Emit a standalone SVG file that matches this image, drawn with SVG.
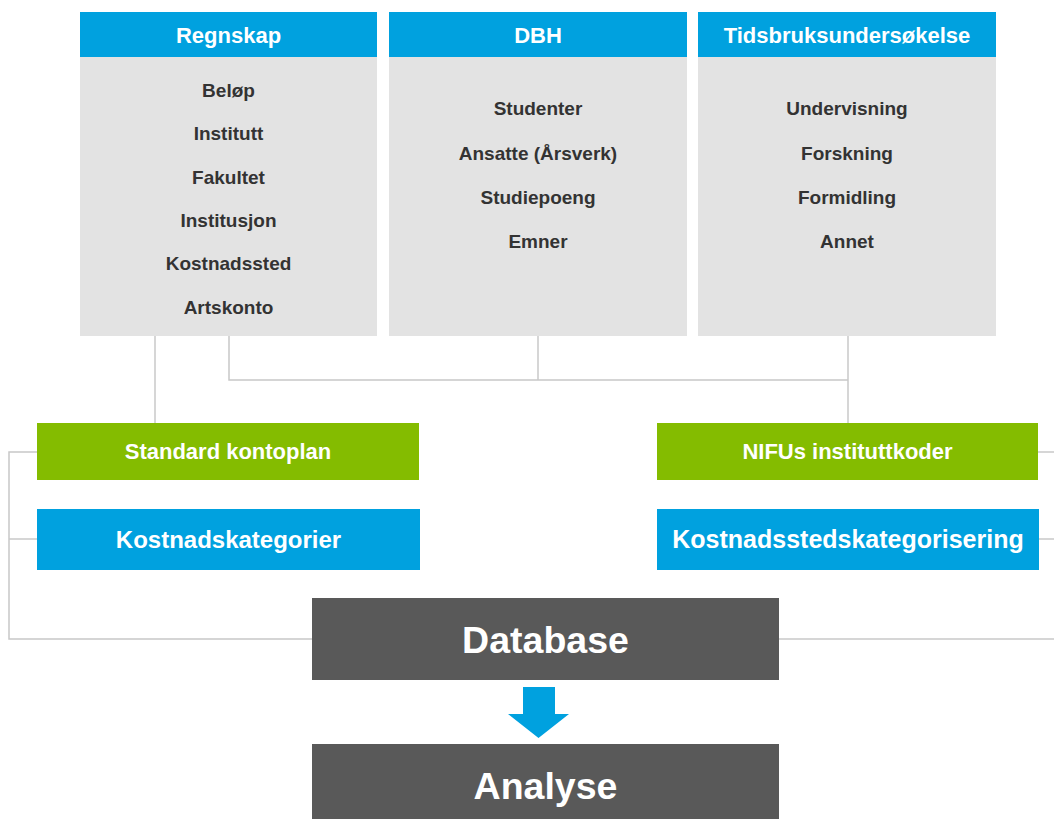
<svg xmlns="http://www.w3.org/2000/svg" width="1054" height="819" viewBox="0 0 1054 819">
  <style>
    text { font-family: "Liberation Sans", Arial, sans-serif; font-weight: bold; text-anchor: middle; }
    .hdr { fill: #00A1DF; }
    .body { fill: #E3E3E3; }
    .green { fill: #84BC00; }
    .blue { fill: #00A1DF; }
    .dark { fill: #595959; }
    .ht { fill: #FFFFFF; font-size: 22px; }
    .it { fill: #333333; font-size: 19px; }
    .bt { fill: #FFFFFF; }
    .big { fill: #FFFFFF; font-size: 37.5px; }
    .conn { stroke: #C8C8C8; stroke-width: 1.5; fill: none; }
  </style>

  <!-- connectors -->
  <g id="connectors">
    <path class="conn" d="M155 336 V423"/>
    <path class="conn" d="M229 336 V380 H848"/>
    <path class="conn" d="M538 336 V380"/>
    <path class="conn" d="M848 336 V423"/>
    <path class="conn" d="M37 452 H9 V639 H312"/>
    <path class="conn" d="M9 539 H37"/>
    <path class="conn" d="M1038 452 H1054"/>
    <path class="conn" d="M1039 539 H1054"/>
    <path class="conn" d="M779 639 H1054"/>
  </g>

  <!-- source: accounting -->
  <g id="regnskap">
    <rect class="hdr" x="80" y="12" width="297" height="45"/>
    <rect class="body" x="80" y="57" width="297" height="279"/>
    <text class="ht" x="228.5" y="43">Regnskap</text>
    <text class="it" x="228.5" y="97">Beløp</text>
    <text class="it" x="228.5" y="140.3">Institutt</text>
    <text class="it" x="228.5" y="183.6">Fakultet</text>
    <text class="it" x="228.5" y="227">Institusjon</text>
    <text class="it" x="228.5" y="270.3">Kostnadssted</text>
    <text class="it" x="228.5" y="313.6">Artskonto</text>
  </g>

  <!-- source: DBH -->
  <g id="dbh">
    <rect class="hdr" x="389" y="12" width="298" height="45"/>
    <rect class="body" x="389" y="57" width="298" height="279"/>
    <text class="ht" x="538" y="43">DBH</text>
    <text class="it" x="538" y="115">Studenter</text>
    <text class="it" x="538" y="159.7">Ansatte (Årsverk)</text>
    <text class="it" x="538" y="204">Studiepoeng</text>
    <text class="it" x="538" y="248.3">Emner</text>
  </g>

  <!-- source: time-use survey -->
  <g id="tidsbruk">
    <rect class="hdr" x="698" y="12" width="298" height="45"/>
    <rect class="body" x="698" y="57" width="298" height="279"/>
    <text class="ht" x="847" y="43">Tidsbruksundersøkelse</text>
    <text class="it" x="847" y="115">Undervisning</text>
    <text class="it" x="847" y="159.7">Forskning</text>
    <text class="it" x="847" y="204">Formidling</text>
    <text class="it" x="847" y="248.3">Annet</text>
  </g>

  <!-- classification keys -->
  <g id="standard-kontoplan">
    <rect class="green" x="37" y="423" width="382" height="57"/>
    <text class="bt" x="228" y="459" font-size="22">Standard kontoplan</text>
  </g>
  <g id="kostnadskategorier">
    <rect class="blue" x="37" y="509" width="383" height="61"/>
    <text class="bt" x="228.5" y="548" font-size="24">Kostnadskategorier</text>
  </g>
  <g id="nifus-instituttkoder">
    <rect class="green" x="657" y="423" width="381" height="57"/>
    <text class="bt" x="847.5" y="459" font-size="22">NIFUs instituttkoder</text>
  </g>
  <g id="kostnadsstedskategorisering">
    <rect class="blue" x="657" y="509" width="382" height="61"/>
    <text class="bt" x="848" y="548" font-size="25">Kostnadsstedskategorisering</text>
  </g>

  <!-- database and analysis -->
  <g id="database">
    <rect class="dark" x="312" y="598" width="467" height="82"/>
    <text class="big" x="545.5" y="653">Database</text>
  </g>
  <g id="flow-arrow">
    <polygon fill="#00A1DF" points="523,687 555,687 555,714 569,714 538.5,738 508,714 523,714"/>
  </g>
  <g id="analyse">
    <rect class="dark" x="312" y="744" width="467" height="75"/>
    <text class="big" x="545.5" y="799">Analyse</text>
  </g>
</svg>
